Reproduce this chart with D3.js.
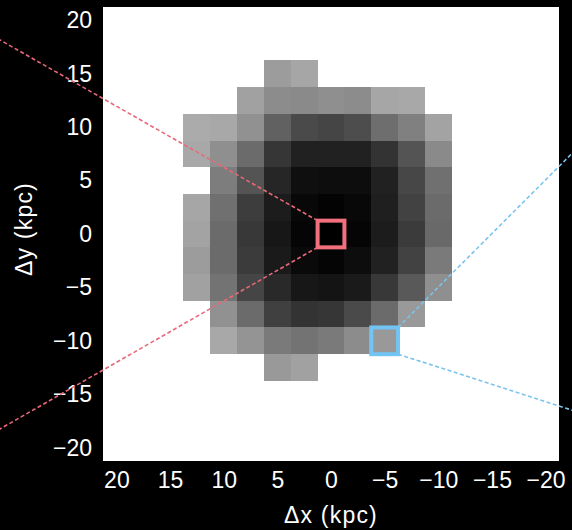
<!DOCTYPE html>
<html>
<head>
<meta charset="utf-8">
<script src="https://cdn.jsdelivr.net/npm/d3@7"></script>
<style>
  html, body { margin: 0; padding: 0; background: #000; }
  svg { display: block; }
  text { font-family: "Liberation Sans", Arial, Helvetica, sans-serif; }
</style>
</head>
<body>
<svg id="chart" width="572" height="530"></svg>
<script>
// Pixel-bin centres (kpc); bins are 2.5 kpc wide
const binSize = 2.5;
const xBins = [12.5, 10, 7.5, 5, 2.5, 0, -2.5, -5, -7.5, -10];
const yBins = [15, 12.5, 10, 7.5, 5, 2.5, 0, -2.5, -5, -7.5, -10, -12.5];

// Normalised projected density per bin (row = yBins, column = xBins); null = empty bin
const density = [
  [null, null, null, 0.39, 0.35, null, null, null, null, null],
  [null, null, 0.37, 0.45, 0.46, 0.44, 0.45, 0.35, 0.34, null],
  [0.33, 0.34, 0.43, 0.62, 0.71, 0.73, 0.70, 0.57, 0.50, 0.36],
  [0.34, 0.44, 0.58, 0.79, 0.87, 0.87, 0.87, 0.80, 0.67, 0.46],
  [null, 0.51, 0.67, 0.85, 0.94, 0.95, 0.95, 0.87, 0.72, 0.56],
  [0.35, 0.56, 0.76, 0.89, 0.97, 0.99, 0.97, 0.88, 0.74, 0.58],
  [0.36, 0.58, 0.78, 0.91, 0.98, 1.00, 0.98, 0.89, 0.77, 0.59],
  [0.39, 0.58, 0.77, 0.90, 0.96, 0.98, 0.95, 0.87, 0.74, 0.52],
  [0.37, 0.55, 0.73, 0.84, 0.91, 0.92, 0.90, 0.78, 0.65, 0.44],
  [null, 0.43, 0.58, 0.75, 0.80, 0.79, 0.71, 0.58, 0.40, null],
  [null, 0.34, 0.42, 0.52, 0.55, 0.52, 0.45, 0.40, null, null],
  [null, null, null, 0.40, 0.37, null, null, null, null, null]
];

const ticks = [20, 15, 10, 5, 0, -5, -10, -15, -20];

// Highlighted bins and the off-panel points their guide lines run to
const highlights = [
  { x: 0,  y: 0,   color: "#f2707e", line: "#e8687a", corners: ["tl", "bl"], targets: [[-20, 28.6], [-20, 440.4]] },
  { x: -5, y: -10, color: "#72c4f4", line: "#7cc4ec", corners: ["tr", "br"], targets: [[590, 135.4], [590, 415.9]] }
];

const svg = d3.select("#chart");
const W = 572, H = 530;
const plot = { left: 103, right: 559, top: 7, bottom: 461 };
const lim = 21.25;

svg.append("rect").attr("width", W).attr("height", H).attr("fill", "#000");

const x = d3.scaleLinear().domain([lim, -lim]).range([plot.left, plot.right]);
const y = d3.scaleLinear().domain([lim, -lim]).range([plot.top, plot.bottom]);
const grey = d3.scaleLinear().domain([0, 1]).range(["#ffffff", "#000000"]);

// Axes background
svg.append("rect")
  .attr("x", plot.left).attr("y", plot.top)
  .attr("width", plot.right - plot.left).attr("height", plot.bottom - plot.top)
  .attr("fill", "#fff");

// Density map
const cells = [];
density.forEach((row, j) => row.forEach((v, i) => {
  if (v != null) cells.push({ x: xBins[i], y: yBins[j], v });
}));
const h = binSize / 2;
svg.append("g").selectAll("rect").data(cells).join("rect")
  .attr("x", d => x(d.x + h))
  .attr("y", d => y(d.y + h))
  .attr("width", d => x(d.x - h) - x(d.x + h))
  .attr("height", d => y(d.y - h) - y(d.y + h))
  .attr("fill", d => grey(d.v))
  .attr("shape-rendering", "crispEdges");

// Axes
const fontSize = 23;
const xAxis = svg.append("g")
  .attr("transform", `translate(0,${plot.bottom})`)
  .call(d3.axisBottom(x).tickValues(ticks).tickSize(0).tickPadding(11));
const yAxis = svg.append("g")
  .attr("transform", `translate(${plot.left},0)`)
  .call(d3.axisLeft(y).tickValues(ticks).tickSize(0).tickPadding(11));
[xAxis, yAxis].forEach(g => {
  g.select(".domain").remove();
  g.selectAll("text").attr("fill", "#fff").style("font-size", fontSize + "px")
    .style("font-family", "'Liberation Sans', Arial, sans-serif");
});

svg.append("text")
  .attr("x", (plot.left + plot.right) / 2).attr("y", 523)
  .attr("text-anchor", "middle").attr("fill", "#fff")
  .style("font-size", fontSize + "px").style("letter-spacing", "1.2px")
  .text("Δx (kpc)");
svg.append("text")
  .attr("transform", `translate(32,${(plot.top + plot.bottom) / 2 - 5}) rotate(-90)`)
  .attr("text-anchor", "middle").attr("fill", "#fff")
  .style("font-size", fontSize + "px").style("letter-spacing", "1.2px")
  .text("Δy (kpc)");

// Highlight boxes and guide lines
highlights.forEach(hl => {
  const x0 = x(hl.x + h), x1 = x(hl.x - h), y0 = y(hl.y + h), y1 = y(hl.y - h);
  const corner = { tl: [x0, y0], tr: [x1, y0], bl: [x0, y1], br: [x1, y1] };
  hl.corners.forEach((c, k) => {
    svg.append("line")
      .attr("x1", corner[c][0]).attr("y1", corner[c][1])
      .attr("x2", hl.targets[k][0]).attr("y2", hl.targets[k][1])
      .attr("stroke", hl.line).attr("stroke-width", 1.6)
      .attr("stroke-dasharray", "4,2.5");
  });
  svg.append("rect")
    .attr("x", x0).attr("y", y0)
    .attr("width", x1 - x0).attr("height", y1 - y0)
    .attr("fill", "none").attr("stroke", hl.color).attr("stroke-width", 4);
});
</script>
</body>
</html>
